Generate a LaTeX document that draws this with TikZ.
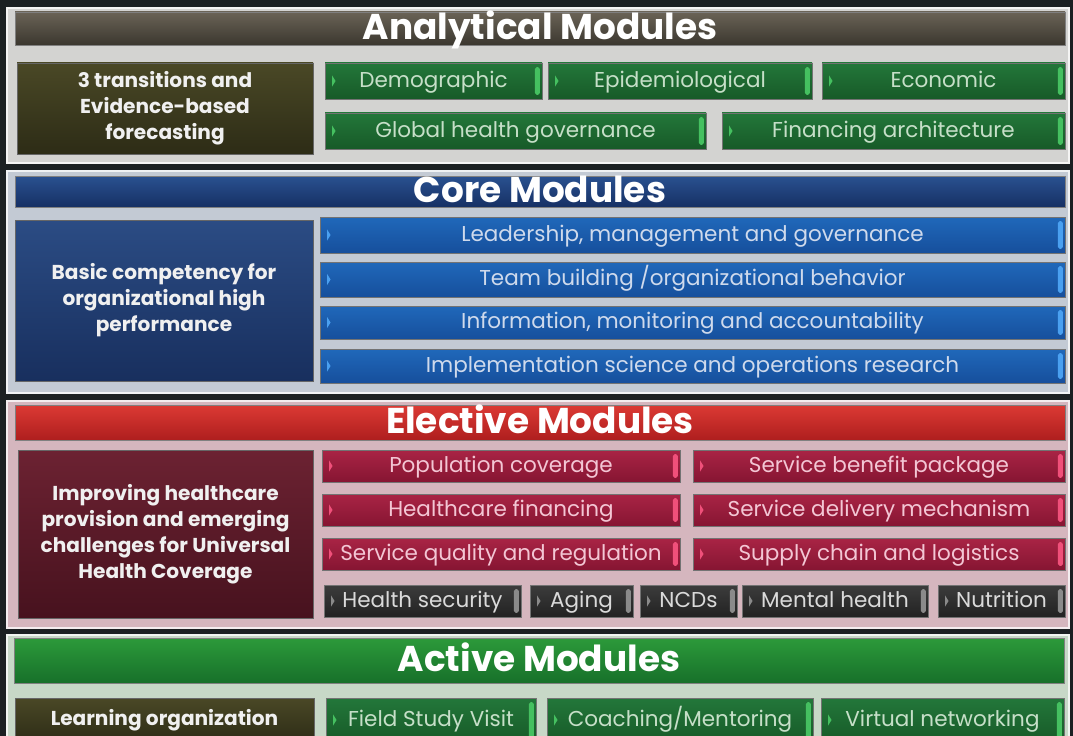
\documentclass[tikz,border=0pt]{standalone}
\usepackage{fontspec}
\setmainfont{Poppins}

\definecolor{bgdark}{HTML}{1B2022}
\definecolor{anpanel}{HTML}{D3D3D1}
\definecolor{copanel}{HTML}{C3CAD4}
\definecolor{elpanel}{HTML}{D5B6BE}
\definecolor{acpanel}{HTML}{C7D8C7}
\definecolor{anhtop}{HTML}{6A6356}
\definecolor{anhbot}{HTML}{3B372F}
\definecolor{cohtop}{HTML}{2A5190}
\definecolor{cohbot}{HTML}{163064}
\definecolor{elhtop}{HTML}{DC3A34}
\definecolor{elhbot}{HTML}{AE1E1E}
\definecolor{achtop}{HTML}{2C9A3A}
\definecolor{achbot}{HTML}{17702A}
\definecolor{oltop}{HTML}{4A4826}
\definecolor{olbot}{HTML}{2D2C16}
\definecolor{nvtop}{HTML}{2B4C84}
\definecolor{nvbot}{HTML}{182F5E}
\definecolor{mrtop}{HTML}{6C2232}
\definecolor{mrbot}{HTML}{47121E}
\definecolor{grtop}{HTML}{23773A}
\definecolor{grbot}{HTML}{175A28}
\definecolor{grtext}{HTML}{C6DFC8}
\definecolor{gracc}{HTML}{45C060}
\definecolor{bltop}{HTML}{2068BA}
\definecolor{blbot}{HTML}{164F9C}
\definecolor{bltext}{HTML}{CFDAEC}
\definecolor{blacc}{HTML}{4AA0F0}
\definecolor{rdtop}{HTML}{A92445}
\definecolor{rdbot}{HTML}{861532}
\definecolor{rdtext}{HTML}{F3C6D4}
\definecolor{rdacc}{HTML}{F0507A}
\definecolor{dktop}{HTML}{3C3C3C}
\definecolor{dkbot}{HTML}{222222}
\definecolor{dktext}{HTML}{DADADA}
\definecolor{dkacc}{HTML}{8A8A8A}

\begin{document}
\begin{tikzpicture}[x=0.025cm, y=-0.025cm,
  spot/.style args = {#1/#2/#3/#4}{minimum width={(#3-#1)*0.025cm},
    minimum height={(#4-#2)*0.025cm}, at={({(#1+#3)/2},{(#2+#4)/2})}},
  panel/.style = {fill=#1, draw=white!75!#1, line width=1.6pt},
  header/.style 2 args = {inner sep=0pt, top color=#1, bottom color=#2,
    draw=black!50, line width=0.4pt, text=white,
    text height=18.4pt, text depth=3pt,
    font=\fontsize{25.5}{28}\selectfont\bfseries},
  lead/.style 2 args = {inner sep=0pt, top color=#1, bottom color=#2,
    draw=black!60, line width=0.4pt, text=white!94!black, align=center,
    font=\fontsize{14.3}{18.5}\selectfont\bfseries},
  tag/.style = {inner sep=0pt, draw=black!55, line width=0.4pt,
    text height=11pt, text depth=2pt,
    font=\fontsize{15.3}{17}\selectfont,
    path picture={
      \fill[#1] ([xshift=5pt]path picture bounding box.west) ++(0,4pt)
        -- ++(2.5pt,-4pt) -- ++(-2.5pt,-4pt) -- cycle;
      \fill[#1, rounded corners=1.2pt]
        ([xshift=-5pt,yshift=-3pt]path picture bounding box.north east)
        rectangle ([xshift=-1.5pt,yshift=3pt]path picture bounding box.south east);
    }},
  greenbox/.style = {tag=gracc, top color=grtop, bottom color=grbot, text=grtext},
  bluebox/.style = {tag=blacc, top color=bltop, bottom color=blbot, text=bltext},
  redbox/.style = {tag=rdacc, top color=rdtop, bottom color=rdbot, text=rdtext},
  darkbox/.style = {tag=dkacc, top color=dktop, bottom color=dkbot, text=dktext}
]

\fill[bgdark] (0,0) rectangle (1073,736);
\useasboundingbox (0,0) rectangle (1073,736);

% panels
\draw[panel=anpanel] (7,8) rectangle (1069,163);
\draw[panel=copanel] (7,171) rectangle (1069,393);
\draw[panel=elpanel] (7,401) rectangle (1069,628);
\draw[panel=acpanel] (7,635) rectangle (1069,745);

% analytical modules
\node[header={anhtop}{anhbot}, spot=15/12/1065/45] (anhead) {Analytical Modules};
\node[lead={oltop}{olbot}, spot=17/63/313/154] (anlead)
  {3 transitions and\\Evidence-based\\forecasting};
\node[greenbox, spot=325/63/542/99] (demo) {Demographic};
\node[greenbox, spot=548/63/812/99] (epid) {Epidemiological};
\node[greenbox, spot=822/63/1065/99] (econ) {Economic};
\node[greenbox, spot=325/113/706/149] (govern) {Global health governance};
\node[greenbox, spot=722/113/1065/149] (finarch) {Financing architecture};

% core modules
\node[header={cohtop}{cohbot}, spot=15/176/1065/207] (cohead) {Core Modules};
\node[lead={nvtop}{nvbot}, spot=15/220/313/381] (colead)
  {Basic competency for\\organizational high\\performance};
\node[bluebox, spot=320/217/1065/253] (leader) {Leadership, management and governance};
\node[bluebox, spot=320/262/1065/297] (team) {Team building /organizational behavior};
\node[bluebox, spot=320/306/1065/339] (info) {Information, monitoring and accountability};
\node[bluebox, spot=320/349/1065/383] (implem) {Implementation science and operations research};

% elective modules
\node[header={elhtop}{elhbot}, spot=15/405/1065/440] (elhead) {Elective Modules};
\node[lead={mrtop}{mrbot}, spot=18/450/313/618] (ellead)
  {Improving healthcare\\provision and emerging\\challenges for Universal\\Health Coverage};
\node[redbox, spot=322/450/680/482] (popcov) {Population coverage};
\node[redbox, spot=693/450/1065/482] (benefit) {Service benefit package};
\node[redbox, spot=322/494/680/526] (hcfin) {Healthcare financing};
\node[redbox, spot=693/494/1065/526] (delivery) {Service delivery mechanism};
\node[redbox, spot=322/538/680/570] (quality) {Service quality and regulation};
\node[redbox, spot=693/538/1065/570] (supply) {Supply chain and logistics};
\node[darkbox, spot=324/585/521/617] (hsec) {Health security};
\node[darkbox, spot=530/585/633/617] (aging) {Aging};
\node[darkbox, spot=640/585/737/617] (ncds) {NCDs};
\node[darkbox, spot=742/585/928/617] (mental) {Mental health};
\node[darkbox, spot=938/585/1065/617] (nutri) {Nutrition};

% active modules
\node[header={achtop}{achbot}, spot=14/638/1064/683] (achead) {Active Modules};
\node[lead={oltop}{olbot}, spot=15/698/314/742] (aclead) {Learning organization};
\node[greenbox, spot=326/698/536/742] (field) {Field Study Visit};
\node[greenbox, spot=547/698/813/742] (coach) {Coaching/Mentoring};
\node[greenbox, spot=821/698/1064/742] (virtual) {Virtual networking};
\end{tikzpicture}
\end{document}
